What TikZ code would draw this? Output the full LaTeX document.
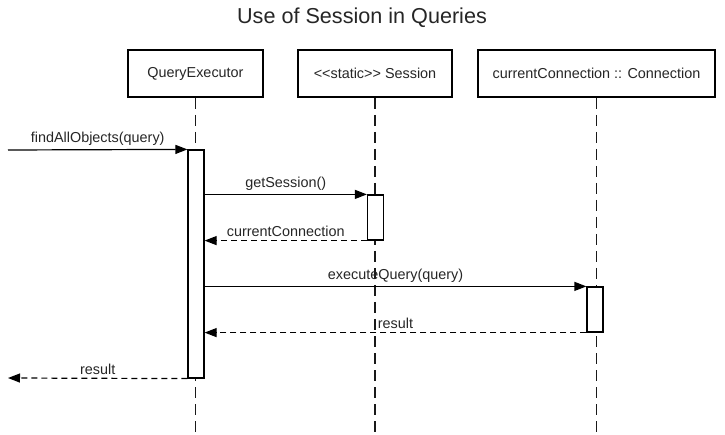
\documentclass[tikz,border=0pt]{standalone}
\usepackage{fontspec}
\setmainfont{Liberation Sans}
\usetikzlibrary{arrows.meta}
\begin{document}
\begin{tikzpicture}[x=1pt,y=-1pt,
 obj/.style={draw=black, line width=2pt, fill=white, minimum height=47pt, inner sep=0pt, font=\fontsize{14.4}{17}\selectfont, text=black!85},
 act/.style={draw=black, line width=1.2pt, fill=white, minimum width=16pt, inner sep=0pt},
 life/.style={draw=black!90, line width=1.4pt, dash pattern=on 11pt off 6pt},
 msg/.style={draw=black, line width=1.2pt, -{Triangle[length=12pt,width=9pt]}},
 ret/.style={msg, dash pattern=on 6pt off 4pt},
 lbl/.style={font=\fontsize{14.4}{17}\selectfont, text=black!85, inner sep=3.5pt}]
\useasboundingbox (0,0) rectangle (725,435);
\node[font=\fontsize{21.6}{25}\selectfont, text=black!85] (title) at (362,18) {Use of Session in Queries};
\node[obj, minimum width=135pt] (qe) at (195.5,73.5) {QueryExecutor};
\node[obj, minimum width=154pt] (ses) at (375,73.5) {<{}<static>{}> Session};
\node[obj, minimum width=237pt] (con) at (596.5,73.5) {currentConnection :: Connection};
\coordinate (qeend) at (195.5,435);
\coordinate (sesend) at (375,435);
\coordinate (conend) at (596.5,435);
\draw[life] (qe.south) -- (qeend);
\draw[life] (ses.south) -- (sesend);
\draw[life] (con.south) -- (conend);
\node[act, minimum height=228pt] (a1) at (196,264) {};
\node[act, minimum height=45pt] (a2) at (375.5,217.5) {};
\node[act, minimum height=45pt] (a3) at (595,309.5) {};
\coordinate (in) at (8,150);
\coordinate (out) at (8,378);
\draw[msg] (in) -- node[lbl, above] {findAllObjects(query)} (a1.north west);
\draw[msg] (a1.east |- a2.north) -- node[lbl, above] {getSession()} (a2.north west);
\draw[ret] (a2.south west) -- node[lbl, above] {currentConnection} (a1.east |- a2.south);
\draw[msg] (a1.east |- a3.north) -- node[lbl, above] {executeQuery(query)} (a3.north west);
\draw[ret] (a3.south west) -- node[lbl, above] {result} (a1.east |- a3.south);
\draw[ret] (a1.south west) -- node[lbl, above] {result} (out);
\end{tikzpicture}
\end{document}
